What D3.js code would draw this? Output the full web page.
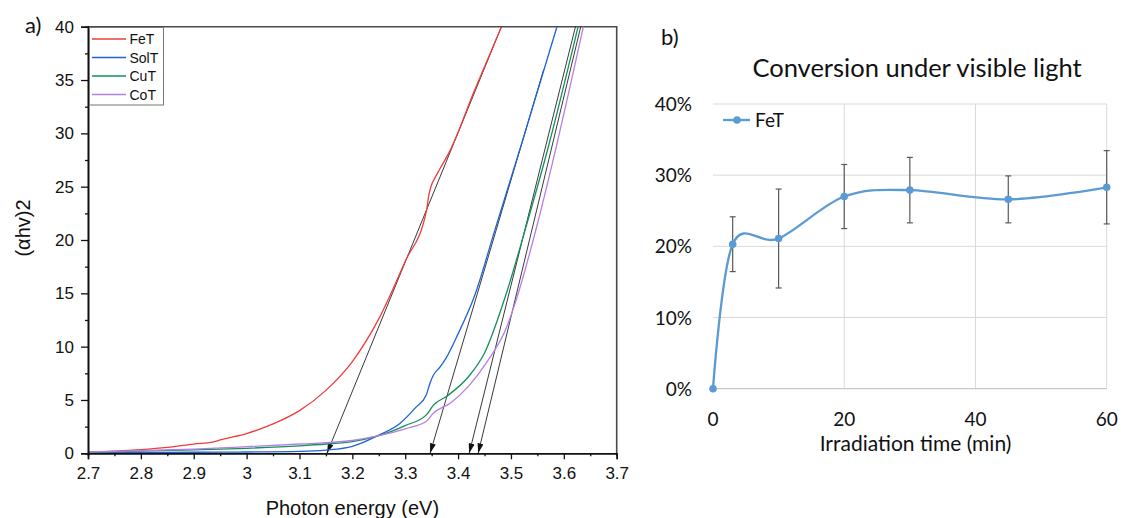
<!DOCTYPE html>
<html>
<head>
<meta charset="utf-8">
<script src="https://cdn.jsdelivr.net/npm/d3@7"></script>
<style>
  body { margin: 0; background: #fff; }
  svg { display: block; }
</style>
</head>
<body>
<svg id="fig" width="1121" height="518"></svg>
<script>
// ---------- Panel a: Tauc plot, (αhν)² versus photon energy ----------
const feEnergy  = [2.70, 2.75, 2.80, 2.85, 2.90, 2.94, 2.95, 3.00, 3.05, 3.10, 3.15, 3.20, 3.25, 3.30, 3.34, 3.345, 3.35, 3.356, 3.366, 3.385, 3.43, 3.482];
const feValue   = [0.10, 0.20, 0.34, 0.55, 0.87, 1.10, 1.25, 1.85, 2.75, 4.00, 5.90, 8.60, 12.6, 18.0, 22.7, 24.3, 25.2, 25.8, 26.7, 28.4, 33.9, 40.0];

const solEnergy = [2.70, 2.80, 2.90, 3.00, 3.10, 3.15, 3.20, 3.25, 3.29, 3.32, 3.34, 3.347, 3.353, 3.366, 3.378, 3.40, 3.43, 3.47, 3.52, 3.587];
const solValue  = [0.05, 0.07, 0.10, 0.12, 0.18, 0.30, 0.65, 1.70, 2.80, 4.30, 5.50, 6.60, 7.30, 8.10, 9.00, 11.2, 14.6, 21.0, 29.0, 40.0];

const cuEnergy  = [2.70, 2.80, 2.90, 3.00, 3.10, 3.15, 3.20, 3.25, 3.30, 3.34, 3.353, 3.38, 3.42, 3.45, 3.49, 3.53, 3.57, 3.627];
const cuValue   = [0.10, 0.20, 0.32, 0.47, 0.70, 0.87, 1.10, 1.65, 2.60, 3.60, 4.50, 5.40, 7.20, 9.40, 14.8, 21.5, 28.6, 40.0];

const coEnergy  = [2.70, 2.80, 2.90, 3.00, 3.10, 3.20, 3.25, 3.30, 3.34, 3.353, 3.385, 3.42, 3.455, 3.49, 3.51, 3.55, 3.585, 3.637];
const coValue   = [0.12, 0.25, 0.40, 0.62, 0.87, 1.20, 1.65, 2.30, 3.00, 3.75, 4.70, 6.30, 8.60, 11.6, 14.4, 21.5, 28.6, 40.0];

const taucNames  = ["FeT", "SolT", "CuT", "CoT"];
const taucColors = ["#f23b3b", "#1f62d6", "#12915a", "#b47fe6"];

// Linear extrapolations: upper end of each line and its band-gap intercept
const fitTopEnergy = [3.482, 3.562, 3.622, 3.632];
const fitTopValue  = [40, 36, 40, 40];
const bandGap      = [3.152, 3.347, 3.421, 3.438];

const xTicksA      = [2.7, 2.8, 2.9, 3.0, 3.1, 3.2, 3.3, 3.4, 3.5, 3.6, 3.7];
const xTickLabelsA = ["2.7", "2.8", "2.9", "3", "3.1", "3.2", "3.3", "3.4", "3.5", "3.6", "3.7"];
const yTicksA      = [0, 5, 10, 15, 20, 25, 30, 35, 40];

// ---------- Panel b: conversion under visible light ----------
const timeMin      = [0, 3, 10, 20, 30, 45, 60];
const conversion   = [0.000, 0.203, 0.211, 0.270, 0.279, 0.266, 0.283];
const conversionEr = [0.000, 0.0385, 0.0695, 0.045, 0.046, 0.033, 0.0515];
const xTicksB      = [0, 20, 40, 60];
const yTicksB      = [0, 0.1, 0.2, 0.3, 0.4];

const svg = d3.select("#fig");
const defs = svg.append("defs");

// =================== Panel a ===================
const A = { left: 88, right: 616.7, top: 26.7, bottom: 453.3 };
const xA = d3.scaleLinear().domain([2.7, 3.7]).range([A.left, A.right]);
const yA = d3.scaleLinear().domain([0, 40]).range([A.bottom, A.top]);
const fontA = "'Liberation Sans', Arial, sans-serif";

const gA = svg.append("g");

defs.append("clipPath").attr("id", "clipA")
  .append("rect").attr("x", A.left).attr("y", A.top - 1)
  .attr("width", A.right - A.left).attr("height", A.bottom - A.top + 1);

defs.append("marker")
  .attr("id", "arrowHead")
  .attr("markerUnits", "userSpaceOnUse")
  .attr("viewBox", "0 0 10 6")
  .attr("refX", 10).attr("refY", 3)
  .attr("markerWidth", 10).attr("markerHeight", 6)
  .attr("orient", "auto")
  .append("path").attr("d", "M0,0 L10,3 L0,6 Z").attr("fill", "#111");

// frame (top and right sides)
gA.append("path")
  .attr("d", `M${A.left},${A.top} H${A.right} V${A.bottom}`)
  .attr("fill", "none").attr("stroke", "#4a4a4a").attr("stroke-width", 1.6);

// extrapolation lines with arrows down to the energy axis
const fitG = gA.append("g").attr("clip-path", "url(#clipA)");
taucNames.forEach((n, i) => {
  fitG.append("line")
    .attr("x1", xA(fitTopEnergy[i])).attr("y1", yA(fitTopValue[i]))
    .attr("x2", xA(bandGap[i])).attr("y2", yA(0))
    .attr("stroke", "#222").attr("stroke-width", 0.9)
    .attr("marker-end", "url(#arrowHead)");
});

// spectra
const seriesA = [
  [feEnergy, feValue], [solEnergy, solValue], [cuEnergy, cuValue], [coEnergy, coValue]
];
const lineA = d3.line().x(d => xA(d[0])).y(d => yA(d[1])).curve(d3.curveMonotoneX);
const curveG = gA.append("g").attr("clip-path", "url(#clipA)");
seriesA.forEach(([e, v], i) => {
  curveG.append("path")
    .datum(e.map((x, k) => [x, v[k]]))
    .attr("d", lineA)
    .attr("fill", "none")
    .attr("stroke", taucColors[i])
    .attr("stroke-width", 1.3);
});

// axes
const xAxisA = d3.axisBottom(xA).tickValues(xTicksA)
  .tickFormat((d, i) => xTickLabelsA[i]).tickSize(6).tickPadding(8);
const xMinorA = d3.axisBottom(xA).tickValues(xTicksA.slice(0, -1).map(d => d + 0.05))
  .tickFormat("").tickSize(3);
const yAxisA = d3.axisLeft(yA).tickValues(yTicksA).tickSize(7).tickPadding(7);
const yMinorA = d3.axisLeft(yA).tickValues(yTicksA.slice(0, -1).map(d => d + 2.5))
  .tickFormat("").tickSize(3);

function styleAxisA(g) {
  g.select(".domain").attr("stroke", "#111").attr("stroke-width", 1.6);
  g.selectAll(".tick line").attr("stroke", "#111").attr("stroke-width", 1.3);
  g.selectAll(".tick text").attr("font-family", fontA).attr("font-size", 17).attr("fill", "#111");
}
gA.append("g").attr("transform", `translate(0,${A.bottom})`).call(xMinorA).call(styleAxisA);
gA.append("g").attr("transform", `translate(0,${A.bottom})`).call(xAxisA).call(styleAxisA);
gA.append("g").attr("transform", `translate(${A.left},0)`).call(yMinorA).call(styleAxisA);
gA.append("g").attr("transform", `translate(${A.left},0)`).call(yAxisA).call(styleAxisA);

// axis titles
gA.append("text")
  .attr("x", (A.left + A.right) / 2).attr("y", 514.5)
  .attr("text-anchor", "middle")
  .attr("font-family", fontA).attr("font-size", 20).attr("fill", "#111")
  .text("Photon energy (eV)");
gA.append("text")
  .attr("transform", "translate(30,228) rotate(-90)")
  .attr("text-anchor", "middle")
  .attr("font-family", fontA).attr("font-size", 20).attr("fill", "#111")
  .text("(αhv)2");

// legend
const legA = gA.append("g");
legA.append("rect")
  .attr("x", 89.5).attr("y", 27.5).attr("width", 74).attr("height", 77.5)
  .attr("fill", "#fff").attr("stroke", "#777").attr("stroke-width", 1);
taucNames.forEach((n, i) => {
  const yy = 39 + i * 18.5;
  legA.append("line").attr("x1", 92).attr("x2", 126).attr("y1", yy).attr("y2", yy)
    .attr("stroke", taucColors[i]).attr("stroke-width", 1.3);
  legA.append("text").attr("x", 129.5).attr("y", yy + 5)
    .attr("font-family", fontA).attr("font-size", 14).attr("fill", "#111").text(n);
});

// panel letter
svg.append("text").attr("x", 25).attr("y", 33)
  .attr("font-family", "Lato, 'Open Sans', sans-serif").attr("font-size", 22).attr("fill", "#111")
  .text("a)");

// =================== Panel b ===================
const B = { left: 713, right: 1106.7, top: 104, bottom: 388.7 };
const xB = d3.scaleLinear().domain([0, 60]).range([B.left, B.right]);
const yB = d3.scaleLinear().domain([0, 0.4]).range([B.bottom, B.top]);
const fontB = "Lato, 'Open Sans', sans-serif";
const gB = svg.append("g");

// gridlines
gB.selectAll(".hgrid").data(yTicksB.slice(1)).join("line")
  .attr("x1", B.left).attr("x2", B.right)
  .attr("y1", d => yB(d)).attr("y2", d => yB(d))
  .attr("stroke", "#d9d9d9").attr("stroke-width", 1);
gB.selectAll(".vgrid").data(xTicksB.slice(1)).join("line")
  .attr("x1", d => xB(d)).attr("x2", d => xB(d))
  .attr("y1", B.top).attr("y2", B.bottom)
  .attr("stroke", "#d9d9d9").attr("stroke-width", 1);
gB.append("line")
  .attr("x1", B.left).attr("x2", B.right).attr("y1", B.bottom).attr("y2", B.bottom)
  .attr("stroke", "#c8c8c8").attr("stroke-width", 1.2);

// tick labels
gB.selectAll(".ylab").data(yTicksB).join("text")
  .attr("x", 692).attr("y", d => yB(d) + 7)
  .attr("text-anchor", "end")
  .attr("font-family", fontB).attr("font-size", 19).attr("fill", "#111")
  .text(d3.format(".0%"));
gB.selectAll(".xlab").data(xTicksB).join("text")
  .attr("x", d => xB(d)).attr("y", 426)
  .attr("text-anchor", "middle")
  .attr("font-family", fontB).attr("font-size", 19).attr("fill", "#111")
  .text(d => d);

// title, axis title, panel letter
gB.append("text").attr("x", 917).attr("y", 77)
  .attr("text-anchor", "middle")
  .attr("font-family", fontB).attr("font-size", 25.5).attr("fill", "#111")
  .text("Conversion under visible light");
gB.append("text").attr("x", 915.5).attr("y", 450.5)
  .attr("text-anchor", "middle")
  .attr("font-family", fontB).attr("font-size", 21).attr("fill", "#111")
  .text("Irradiation time (min)");
svg.append("text").attr("x", 661).attr("y", 45)
  .attr("font-family", fontB).attr("font-size", 22).attr("fill", "#111")
  .text("b)");

// error bars
const pts = timeMin.map((t, i) => ({ t, v: conversion[i], e: conversionEr[i] }));
const errG = gB.append("g").attr("stroke", "#595959").attr("stroke-width", 1.2);
pts.filter(p => p.e > 0).forEach(p => {
  const x = xB(p.t);
  errG.append("line").attr("x1", x).attr("x2", x).attr("y1", yB(p.v + p.e)).attr("y2", yB(p.v - p.e));
  errG.append("line").attr("x1", x - 3).attr("x2", x + 3).attr("y1", yB(p.v + p.e)).attr("y2", yB(p.v + p.e));
  errG.append("line").attr("x1", x - 3).attr("x2", x + 3).attr("y1", yB(p.v - p.e)).attr("y2", yB(p.v - p.e));
});

// smoothed series line and markers
const lineB = d3.line().x(d => xB(d.t)).y(d => yB(d.v)).curve(d3.curveCardinal.tension(0));
gB.append("path").datum(pts).attr("d", lineB)
  .attr("fill", "none").attr("stroke", "#5b9bd5").attr("stroke-width", 2.3);
gB.selectAll(".pt").data(pts).join("circle")
  .attr("cx", d => xB(d.t)).attr("cy", d => yB(d.v)).attr("r", 3.8)
  .attr("fill", "#5b9bd5");

// legend
gB.append("line").attr("x1", 723).attr("x2", 750).attr("y1", 120).attr("y2", 120)
  .attr("stroke", "#5b9bd5").attr("stroke-width", 2.3);
gB.append("circle").attr("cx", 737).attr("cy", 120).attr("r", 3.8).attr("fill", "#5b9bd5");
gB.append("text").attr("x", 755).attr("y", 127)
  .attr("font-family", fontB).attr("font-size", 19).attr("fill", "#111")
  .text("FeT");
</script>
</body>
</html>
